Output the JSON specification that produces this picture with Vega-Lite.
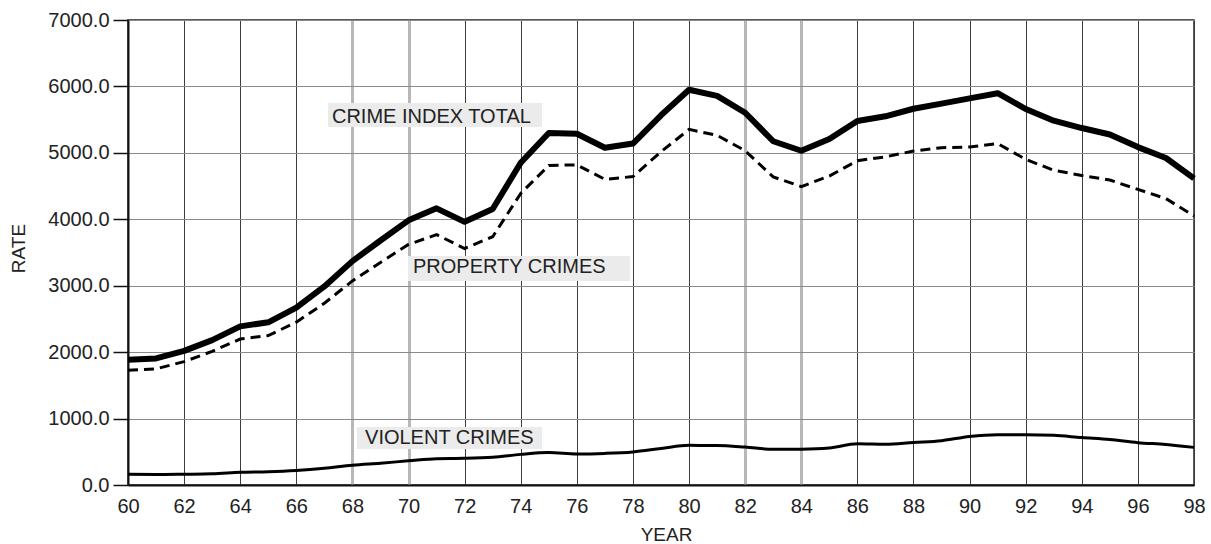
{
  "$schema": "https://vega.github.io/schema/vega-lite/v6.json",
  "width": 1066,
  "height": 465,
  "autosize": {"type": "none"},
  "padding": {"left": 128, "top": 20, "right": 17, "bottom": 59},
  "background": "white",
  "view": {"stroke": "#222", "strokeWidth": 1.5},
  "config": {
    "font": "Liberation Sans",
    "axis": {
      "labelFont": "Liberation Sans",
      "labelFontSize": 20,
      "labelColor": "#222",
      "titleFont": "Liberation Sans",
      "titleFontSize": 19,
      "titleFontWeight": "normal",
      "titleColor": "#222",
      "domainColor": "#111",
      "domainWidth": 2
    },
    "axisX": {
      "ticks": false,
      "tickSize": 0,
      "labelBaseline": "alphabetic",
      "labelPadding": 27,
      "labelOverlap": false,
      "labelFlush": false,
      "grid": true,
      "titleX": 538,
      "titleY": 55,
      "titleBaseline": "alphabetic"
    },
    "axisY": {
      "tickSize": 15,
      "tickColor": "#111",
      "tickWidth": 1.5,
      "labelPadding": 4,
      "labelBaseline": "middle",
      "grid": true,
      "gridColor": "#8a8a8a",
      "gridWidth": 1.2,
      "titleX": -110,
      "titleY": 228,
      "titleAngle": -90,
      "titleAlign": "center",
      "titleBaseline": "middle"
    }
  },
  "datasets": {
    "crime": [
      {"year": 1960, "total": 1887.2, "property": 1726.3, "violent": 160.9},
      {"year": 1961, "total": 1906.1, "property": 1747.9, "violent": 158.1},
      {"year": 1962, "total": 2019.8, "property": 1857.5, "violent": 162.3},
      {"year": 1963, "total": 2180.3, "property": 2012.1, "violent": 168.2},
      {"year": 1964, "total": 2388.1, "property": 2197.5, "violent": 190.6},
      {"year": 1965, "total": 2449.0, "property": 2248.8, "violent": 200.2},
      {"year": 1966, "total": 2670.8, "property": 2450.9, "violent": 220.0},
      {"year": 1967, "total": 2989.7, "property": 2736.5, "violent": 253.2},
      {"year": 1968, "total": 3370.2, "property": 3071.8, "violent": 298.4},
      {"year": 1969, "total": 3680.0, "property": 3351.3, "violent": 328.7},
      {"year": 1970, "total": 3984.5, "property": 3621.0, "violent": 363.5},
      {"year": 1971, "total": 4164.7, "property": 3768.8, "violent": 396.0},
      {"year": 1972, "total": 3961.4, "property": 3560.4, "violent": 401.0},
      {"year": 1973, "total": 4154.4, "property": 3737.0, "violent": 417.4},
      {"year": 1974, "total": 4850.4, "property": 4389.3, "violent": 461.1},
      {"year": 1975, "total": 5298.5, "property": 4810.7, "violent": 487.8},
      {"year": 1976, "total": 5287.3, "property": 4819.5, "violent": 467.8},
      {"year": 1977, "total": 5077.6, "property": 4601.7, "violent": 475.9},
      {"year": 1978, "total": 5140.3, "property": 4642.5, "violent": 497.8},
      {"year": 1979, "total": 5565.5, "property": 5016.6, "violent": 548.9},
      {"year": 1980, "total": 5950.0, "property": 5353.3, "violent": 596.6},
      {"year": 1981, "total": 5858.2, "property": 5263.9, "violent": 594.3},
      {"year": 1982, "total": 5603.7, "property": 5032.5, "violent": 571.1},
      {"year": 1983, "total": 5175.0, "property": 4637.4, "violent": 537.7},
      {"year": 1984, "total": 5031.3, "property": 4492.1, "violent": 539.9},
      {"year": 1985, "total": 5207.1, "property": 4650.5, "violent": 558.1},
      {"year": 1986, "total": 5480.4, "property": 4881.8, "violent": 620.1},
      {"year": 1987, "total": 5550.0, "property": 4940.3, "violent": 612.5},
      {"year": 1988, "total": 5664.2, "property": 5027.1, "violent": 640.6},
      {"year": 1989, "total": 5741.0, "property": 5077.9, "violent": 666.9},
      {"year": 1990, "total": 5820.3, "property": 5088.5, "violent": 731.8},
      {"year": 1991, "total": 5897.8, "property": 5139.7, "violent": 758.1},
      {"year": 1992, "total": 5660.2, "property": 4902.7, "violent": 757.7},
      {"year": 1993, "total": 5484.4, "property": 4737.3, "violent": 747.1},
      {"year": 1994, "total": 5373.5, "property": 4660.0, "violent": 713.6},
      {"year": 1995, "total": 5275.9, "property": 4591.3, "violent": 684.6},
      {"year": 1996, "total": 5086.6, "property": 4450.1, "violent": 636.6},
      {"year": 1997, "total": 4922.7, "property": 4311.9, "violent": 611.0},
      {"year": 1998, "total": 4615.5, "property": 4049.1, "violent": 566.4}
    ],
    "labels": [
      {"label": "CRIME INDEX TOTAL", "x1": 1967.13, "x2": 1974.76, "y1": 5389, "y2": 5751, "tx": 1967.27, "ty": 5540},
      {"label": "PROPERTY CRIMES", "x1": 1969.98, "x2": 1977.9, "y1": 3071, "y2": 3447, "tx": 1970.16, "ty": 3282},
      {"label": "VIOLENT CRIMES", "x1": 1968.16, "x2": 1974.76, "y1": 542, "y2": 873, "tx": 1968.45, "ty": 707}
    ]
  },
  "layer": [
    {
      "data": {"name": "labels"},
      "mark": {"type": "rect", "color": "#ebebeb"},
      "encoding": {
        "x": {
          "field": "x1", "type": "quantitative",
          "scale": {"domain": [1960, 1998], "nice": false, "zero": false},
          "axis": {
            "title": "YEAR",
            "values": [1960,1961,1962,1963,1964,1965,1966,1967,1968,1969,1970,1971,1972,1973,1974,1975,1976,1977,1978,1979,1980,1981,1982,1983,1984,1985,1986,1987,1988,1989,1990,1991,1992,1993,1994,1995,1996,1997,1998],
            "labelExpr": "datum.value % 2 == 0 ? substring(toString(datum.value), 2) : ' '",
            "gridColor": {"condition": {"test": "(datum.value >= 1966.5 && datum.value <= 1970.5) || (datum.value >= 1981.5 && datum.value <= 1985.5) || (datum.value > 1996.5 && datum.value < 1997.5)", "value": "#b8b8b8"}, "value": "#3c3c3c"},
            "gridWidth": {"condition": {"test": "(datum.value >= 1966.5 && datum.value <= 1970.5) || (datum.value >= 1981.5 && datum.value <= 1985.5) || (datum.value > 1996.5 && datum.value < 1997.5)", "value": 3}, "value": 1}
          }
        },
        "x2": {"field": "x2"},
        "y": {
          "field": "y1", "type": "quantitative",
          "scale": {"domain": [0, 7000], "nice": false},
          "axis": {
            "title": "RATE",
            "values": [0, 1000, 2000, 3000, 4000, 5000, 6000, 7000],
            "format": ".1f"
          }
        },
        "y2": {"field": "y2"}
      }
    },
    {
      "data": {"name": "labels"},
      "mark": {"type": "text", "align": "left", "baseline": "middle", "fontSize": 20, "font": "Liberation Sans", "color": "#222"},
      "encoding": {
        "x": {"field": "tx", "type": "quantitative", "title": "YEAR"},
        "y": {"field": "ty", "type": "quantitative", "title": "RATE"},
        "text": {"field": "label"}
      }
    },
    {
      "data": {"name": "crime"},
      "mark": {"type": "line", "color": "#000", "strokeWidth": 3, "interpolate": "monotone"},
      "encoding": {
        "x": {"field": "year", "type": "quantitative", "title": "YEAR"},
        "y": {"field": "violent", "type": "quantitative", "title": "RATE"}
      }
    },
    {
      "data": {"name": "crime"},
      "mark": {"type": "line", "color": "#000", "strokeWidth": 3, "strokeDash": [10, 6]},
      "encoding": {
        "x": {"field": "year", "type": "quantitative", "title": "YEAR"},
        "y": {"field": "property", "type": "quantitative", "title": "RATE"}
      }
    },
    {
      "data": {"name": "crime"},
      "mark": {"type": "line", "color": "#000", "strokeWidth": 6, "strokeJoin": "round"},
      "encoding": {
        "x": {"field": "year", "type": "quantitative", "title": "YEAR"},
        "y": {"field": "total", "type": "quantitative", "title": "RATE"}
      }
    }
  ]
}
